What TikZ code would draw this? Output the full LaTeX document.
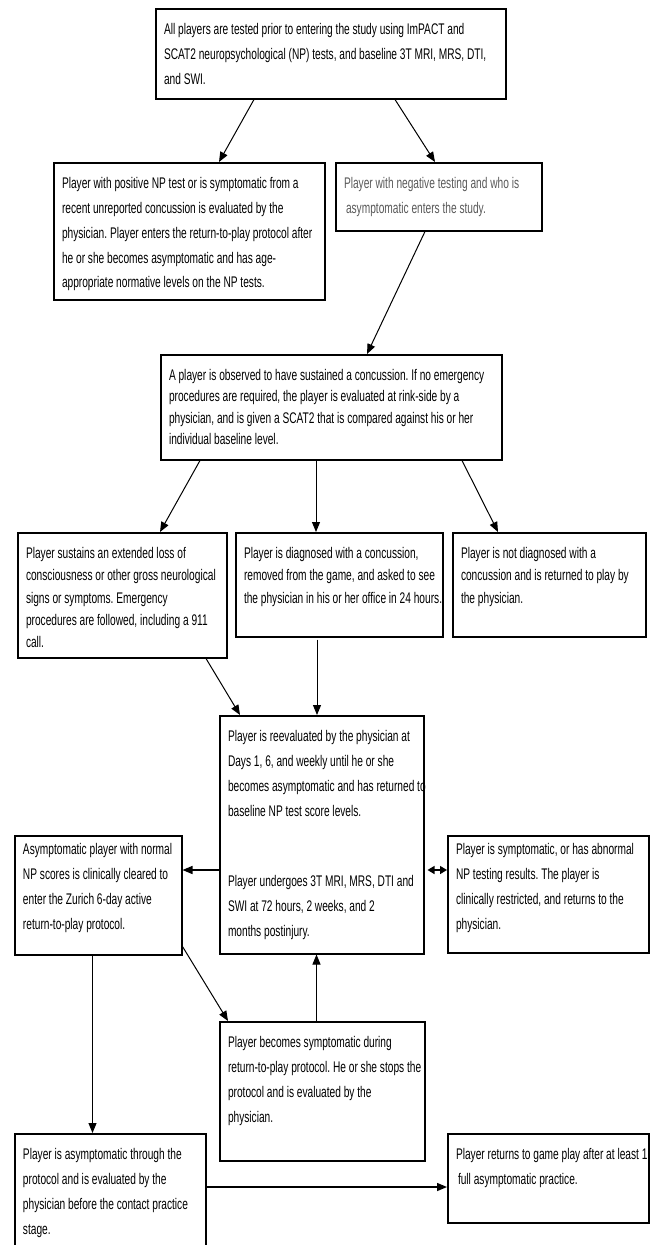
\documentclass[tikz,border=0pt]{standalone}
\usepackage{fontspec}
\setmainfont[FakeStretch=0.66]{Liberation Sans}
\usetikzlibrary{arrows.meta}
\frenchspacing

\begin{document}
\begin{tikzpicture}[x=1pt, y=-1pt, >={Triangle[length=10pt,width=8pt]}, line width=1pt,
                box/.style={draw, line width=1.5pt, inner sep=0pt, anchor=north west},
                txt/.style={anchor=north west, align=left, inner sep=0pt,
                            font=\fontsize{15.4}{24.8}\selectfont}]

  \useasboundingbox (0,0) rectangle (650,1245);

  % boxes
  \node[box, minimum width=350pt, minimum height=90pt]  (a) at (155,8) {};
  \node[box, minimum width=271pt, minimum height=137pt] (b) at (53,162) {};
  \node[box, minimum width=206pt, minimum height=68pt]  (c) at (335,162) {};
  \node[box, minimum width=341pt, minimum height=105pt] (d) at (160,354) {};
  \node[box, minimum width=209pt, minimum height=125pt] (e) at (17,532) {};
  \node[box, minimum width=207pt, minimum height=104pt] (f) at (235,532) {};
  \node[box, minimum width=193pt, minimum height=104pt] (g) at (452,532) {};
  \node[box, minimum width=204pt, minimum height=238pt] (h) at (219,715) {};
  \node[box, minimum width=167pt, minimum height=119pt] (i) at (14,835) {};
  \node[box, minimum width=201pt, minimum height=117pt] (j) at (447,835) {};
  \node[box, minimum width=205pt, minimum height=139pt] (l) at (219,1021) {};
  \node[box, minimum width=191pt, minimum height=130pt] (k) at (14,1133) {};
  \node[box, minimum width=201pt, minimum height=89pt]  (m) at (447,1133) {};

  % texts
  \node[txt] (a-t) at ([xshift=8.5pt,yshift=-15pt]a.north west)
    {All players are tested prior to entering the study using ImPACT and\\
     SCAT2 neuropsychological (NP) tests, and baseline 3T MRI, MRS, DTI,\\
     and SWI.};
  \node[txt] (b-t) at ([xshift=8.5pt,yshift=-15pt]b.north west)
    {Player with positive NP test or is symptomatic from a\\
     recent unreported concussion is evaluated by the\\
     physician. Player enters the return-to-play protocol after\\
     he or she becomes asymptomatic and has age-\\
     appropriate normative levels on the NP tests.};
  \node[txt, text=black!65] (c-t) at ([xshift=8.5pt,yshift=-15pt]c.north west)
    {Player with negative testing and who is\\
     \hspace{2pt}asymptomatic enters the study.};
  \node[txt, font=\fontsize{15.4}{21.3}\selectfont] (d-t) at ([xshift=8.5pt,yshift=-15pt]d.north west)
    {A player is observed to have sustained a concussion. If no emergency\\
     procedures are required, the player is evaluated at rink-side by a\\
     physician, and is given a SCAT2 that is compared against his or her\\
     individual baseline level.};
  \node[txt, font=\fontsize{15.4}{22.3}\selectfont] (e-t) at ([xshift=8.5pt,yshift=-15pt]e.north west)
    {Player sustains an extended loss of\\
     consciousness or other gross neurological\\
     signs or symptoms. Emergency\\
     procedures are followed, including a 911\\
     call.};
  \node[txt, font=\fontsize{15.4}{22.3}\selectfont] (f-t) at ([xshift=8.5pt,yshift=-15pt]f.north west)
    {Player is diagnosed with a concussion,\\
     removed from the game, and asked to see\\
     the physician in his or her office in 24 hours.};
  \node[txt, font=\fontsize{15.4}{22.3}\selectfont] (g-t) at ([xshift=8.5pt,yshift=-15pt]g.north west)
    {Player is not diagnosed with a\\
     concussion and is returned to play by\\
     the physician.};
  \node[txt] (h-t) at ([xshift=8.5pt,yshift=-15pt]h.north west)
    {Player is reevaluated by the physician at\\
     Days 1, 6, and weekly until he or she\\
     becomes asymptomatic and has returned to\\
     baseline NP test score levels.\\[46pt]
     Player undergoes 3T MRI, MRS, DTI and\\
     SWI at 72 hours, 2 weeks, and 2\\
     months postinjury.};
  \node[txt] (i-t) at ([xshift=8.5pt,yshift=-8pt]i.north west)
    {Asymptomatic player with normal\\
     NP scores is clinically cleared to\\
     enter the Zurich 6-day active\\
     return-to-play protocol.};
  \node[txt] (j-t) at ([xshift=8.5pt,yshift=-8pt]j.north west)
    {Player is symptomatic, or has abnormal\\
     NP testing results. The player is\\
     clinically restricted, and returns to the\\
     physician.};
  \node[txt] (l-t) at ([xshift=8.5pt,yshift=-15pt]l.north west)
    {Player becomes symptomatic during\\
     return-to-play protocol. He or she stops the\\
     protocol and is evaluated by the\\
     physician.};
  \node[txt] (k-t) at ([xshift=8.5pt,yshift=-15pt]k.north west)
    {Player is asymptomatic through the\\
     protocol and is evaluated by the\\
     physician before the contact practice\\
     stage.};
  \node[txt] (m-t) at ([xshift=8.5pt,yshift=-15pt]m.north west)
    {Player returns to game play after at least 1\\
     \hspace{2pt}full asymptomatic practice.};

  % connectors
  \draw[->] ([xshift=99pt]a.south west) -- ([xshift=166pt]b.north west);
  \draw[->] ([xshift=240pt]a.south west) -- ([xshift=100pt]c.north west);
  \draw[->] ([xshift=90pt]c.south west) -- ([xshift=207pt]d.north west);
  \draw[->] ([xshift=40pt]d.south west) -- ([xshift=143pt]e.north west);
  \draw[->] ([xshift=156pt]d.south west) -- ([xshift=81pt]f.north west);
  \draw[->] ([xshift=302pt]d.south west) -- ([xshift=46pt]g.north west);
  \draw[->] ([xshift=189pt]e.south west) -- ([xshift=21pt]h.north west);
  \draw[->] ([xshift=82pt,yshift=-2pt]f.south west) -- ([xshift=98pt]h.north west);
  \draw[->, line width=1.4pt] ([yshift=-155pt]h.north west) -- ([yshift=-35pt]i.north east);
  \draw[<->, >={Triangle[length=7pt,width=8pt]}, line width=1.4pt]
    ([xshift=3pt,yshift=-155pt]h.north east) -- ([yshift=-35pt]j.north west);
  \draw[->] ([xshift=78.5pt]i.south west) -- ([xshift=78.5pt]k.north west);
  \draw[->] ([yshift=9pt]i.south east) -- ([xshift=9pt]l.north west);
  \draw[->] ([xshift=97.5pt]l.north west) -- ([xshift=97.5pt]h.south west);
  \draw[->, line width=1.4pt] ([yshift=-54pt]k.north east) -- ([yshift=-54pt]m.north west);
\end{tikzpicture}
\end{document}
